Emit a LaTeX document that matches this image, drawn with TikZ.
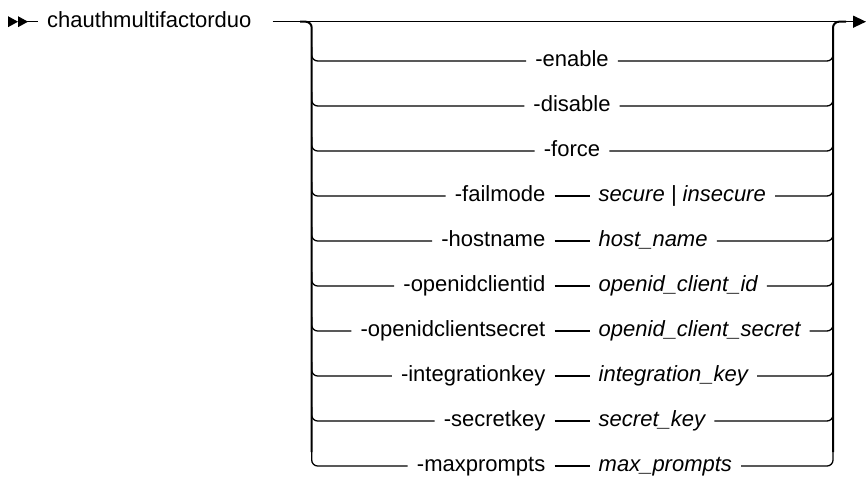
\documentclass[tikz,border=0pt]{standalone}
\usepackage{fontspec}
\setmainfont{Liberation Sans}
\usetikzlibrary{arrows.meta}
\newlength\lblw
\newlength\valw
\newcommand\rowfont{\fontsize{22}{26}\selectfont}
\newcommand\cx{572}
\newcommand\lx{311.7}
\newcommand\rx{833}
\tikzset{
  x=1pt, y=-1pt,
  txt/.style={font=\rowfont, inner xsep=9pt, inner ysep=0pt, text height=11.5pt, text depth=0pt},
  lbl/.style={txt},
  val/.style={txt, font=\rowfont\itshape},
  hline/.style={line width=1.3pt, draw=black},
  rowline/.style={hline, rounded corners=6pt},
  rail/.style={line width=2pt, draw=black, rounded corners=6pt},
  startmark/.style={fill=black},
}
% row with a keyword only
\newcommand\optrow[3]{%
  \node[lbl] (#1) at (\cx,#2) {#3};
  \coordinate (#1L) at (\lx,#2-14);
  \coordinate (#1R) at (\rx,#2-14);
  \draw[rowline] (#1L) |- (#1.west);
  \draw[rowline] (#1.east) -| (#1R);
}
% row with a keyword and a value
\newcommand\valrow[4]{%
  \settowidth\lblw{\rowfont #3}%
  \settowidth\valw{\rowfont\itshape #4}%
  \pgfmathsetmacro\dc{\cx + (\lblw - \valw)/2}%
  \node[lbl, anchor=east] (#1) at (\dc-17.5,#2) {#3};
  \node[val, anchor=west] (#1v) at (\dc+17.5,#2) {#4};
  \coordinate (#1L) at (\lx,#2-14);
  \coordinate (#1R) at (\rx,#2-14);
  \draw[rowline] (#1L) |- (#1.west);
  \draw[hline] (#1.east) -- (#1v.west);
  \draw[rowline] (#1v.east) -| (#1R);
}
\begin{document}
\begin{tikzpicture}
\useasboundingbox (0,0) rectangle (866,488);
% start marker
\fill[startmark] (8,16.2) -- (18,21.7) -- (8,27.2) -- cycle;
\fill[startmark] (18,16.2) -- (28,21.7) -- (18,27.2) -- cycle;
\coordinate (st) at (24,21.7);
\node[lbl, anchor=west] (cmd) at (38,21.7) {chauthmultifactorduo};
\draw[hline] (st) -- (cmd.west);
\coordinate (endp) at (866,21.7);
\draw[hline, -{Triangle[length=13pt,width=12pt]}] ([xshift=12pt]cmd.east) -- (endp);
% rows
\optrow{en}{61}{-enable}
\optrow{dis}{106}{-disable}
\optrow{fo}{151}{-force}
\valrow{fm}{196}{-failmode}{secure | insecure}
\valrow{hn}{241}{-hostname}{host\_name}
\valrow{oci}{286}{-openidclientid}{openid\_client\_id}
\valrow{ocs}{331}{-openidclientsecret}{openid\_client\_secret}
\valrow{ik}{376}{-integrationkey}{integration\_key}
\valrow{sk}{421}{-secretkey}{secret\_key}
\valrow{mp}{466}{-maxprompts}{max\_prompts}
% rails
\coordinate (jl) at (300,21.7);
\coordinate (jr) at (846,21.7);
\coordinate (lc) at (\lx,21.7);
\coordinate (rc) at (\rx,21.7);
\draw[rail] (jl) -- (lc) -- (mpL);
\draw[rail] (mpR) -- (rc) -- (jr);
\end{tikzpicture}
\end{document}
